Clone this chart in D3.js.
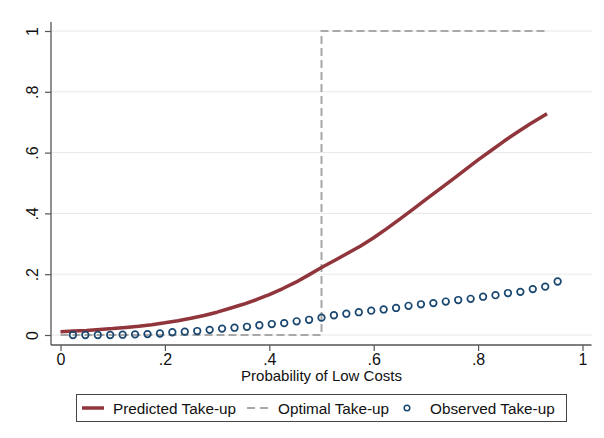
<!DOCTYPE html>
<html>
<head>
<meta charset="utf-8">
<script src="https://cdn.jsdelivr.net/npm/d3@7/dist/d3.min.js"></script>
<style>
  html, body { margin: 0; padding: 0; background: #fff; }
  svg { display: block; font-family: "Liberation Sans", Arial, sans-serif; }
</style>
</head>
<body>
<svg id="chart" width="604" height="438"></svg>
<script>
// Predicted take-up curve
const predX = [0, .025, .05, .075, .1, .125, .15, .175, .2, .225, .25, .275, .3, .325, .35, .375, .4, .425, .45, .475, .5, .525, .55, .575, .6, .625, .65, .675, .7, .725, .75, .775, .8, .825, .85, .875, .9, .932];
const predY = [.011, .013, .015, .018, .021, .025, .029, .034, .040, .047, .055, .064, .075, .088, .101, .116, .133, .152, .173, .197, .222, .245, .269, .293, .320, .350, .381, .413, .446, .478, .510, .543, .576, .607, .638, .667, .695, .728];

// Optimal take-up step
const optX = [0, 0.5, 0.5, 0.934];
const optY = [0, 0, 1, 1];

// Observed take-up, x = k/42
const obsK = d3.range(1, 41);
const obsY = [0.000, 0.000, 0.000, 0.000, 0.001, 0.002, 0.003, 0.005, 0.009, 0.011,
              0.013, 0.017, 0.021, 0.024, 0.027, 0.032, 0.036, 0.039, 0.045, 0.050,
              0.057, 0.065, 0.070, 0.075, 0.080, 0.084, 0.089, 0.096, 0.101, 0.105,
              0.110, 0.115, 0.119, 0.126, 0.131, 0.138, 0.142, 0.151, 0.159, 0.176];

const xTicks = [0, .2, .4, .6, .8, 1];
const yTicks = [0, .2, .4, .6, .8, 1];
const seriesNames = ["Predicted Take-up", "Optimal Take-up", "Observed Take-up"];
const xTitle = "Probability of Low Costs";

const colRed = "#90353b", colGray = "#a8a8a8", colNavy = "#1a476f";

const svg = d3.select("#chart");
const x = d3.scaleLinear().domain([0, 1]).range([60.5, 582.5]);
const y = d3.scaleLinear().domain([0, 1]).range([335, 31]);
const plotL = 51, plotR = 591.5, plotT = 22, plotB = 345;

const fmt = d => d === 0 ? "0" : d === 1 ? "1" : String(d).replace(/^0\./, ".");

// grid
svg.append("g").selectAll("line").data(yTicks).join("line")
  .attr("x1", plotL).attr("x2", plotR)
  .attr("y1", d => y(d)).attr("y2", d => y(d))
  .attr("stroke", "#e8e8e8").attr("stroke-width", 1);

// y axis
const gy = svg.append("g").attr("transform", `translate(${plotL},0)`)
  .call(d3.axisLeft(y).tickValues(yTicks).tickFormat(fmt).tickSize(6).tickPadding(0));
gy.select(".domain").remove();
gy.selectAll(".tick line").attr("stroke", "#555").attr("stroke-width", 1.2);
gy.selectAll(".tick text")
  .attr("font-size", 16).attr("fill", "#111")
  .attr("text-anchor", "middle")
  .attr("x", 0).attr("dy", 0)
  .attr("transform", "translate(-13,0) rotate(-90)");
svg.append("line").attr("x1", plotL).attr("x2", plotL).attr("y1", plotT).attr("y2", plotB)
  .attr("stroke", "#555").attr("stroke-width", 1.3);

// x axis
const gx = svg.append("g").attr("transform", `translate(0,${plotB})`)
  .call(d3.axisBottom(x).tickValues(xTicks).tickFormat(fmt).tickSize(6).tickPadding(3));
gx.select(".domain").remove();
gx.selectAll(".tick line").attr("stroke", "#555").attr("stroke-width", 1.2);
gx.selectAll(".tick text").attr("font-size", 16).attr("fill", "#111");
svg.append("line").attr("x1", plotL).attr("x2", plotR).attr("y1", plotB).attr("y2", plotB)
  .attr("stroke", "#555").attr("stroke-width", 1.3);

svg.append("text").attr("x", x(0.5)).attr("y", 381).attr("text-anchor", "middle")
  .attr("font-size", 15).attr("fill", "#111").text(xTitle);

// optimal step line
const optPts = optX.map((v, i) => [v, optY[i]]);
svg.append("path").datum(optPts)
  .attr("d", d3.line().x(d => x(d[0])).y(d => y(d[1])))
  .attr("fill", "none").attr("stroke", colGray).attr("stroke-width", 2)
  .attr("stroke-dasharray", "8,4");

// predicted curve
const predPts = predX.map((v, i) => [v, predY[i]]);
svg.append("path").datum(predPts)
  .attr("d", d3.line().x(d => x(d[0])).y(d => y(d[1])))
  .attr("fill", "none").attr("stroke", colRed).attr("stroke-width", 3.5)
  .attr("stroke-linejoin", "round");

// observed circles
svg.append("g").selectAll("circle").data(obsK).join("circle")
  .attr("cx", (k) => x(k / 42)).attr("cy", (k, i) => y(obsY[i]))
  .attr("r", 3.3).attr("fill", "none").attr("stroke", colNavy).attr("stroke-width", 1.7);

// legend
const lg = svg.append("g");
lg.append("rect").attr("x", 76.5).attr("y", 394.5).attr("width", 490).attr("height", 27)
  .attr("fill", "#fff").attr("stroke", "#444").attr("stroke-width", 1);
const ly = 408;
lg.append("line").attr("x1", 82).attr("x2", 104).attr("y1", ly).attr("y2", ly)
  .attr("stroke", colRed).attr("stroke-width", 3.5);
lg.append("text").attr("x", 113).attr("y", ly + 6).attr("font-size", 15.3).attr("fill", "#111").text(seriesNames[0]);
lg.append("line").attr("x1", 247).attr("x2", 269).attr("y1", ly).attr("y2", ly)
  .attr("stroke", colGray).attr("stroke-width", 2).attr("stroke-dasharray", "8,5");
lg.append("text").attr("x", 278).attr("y", ly + 6).attr("font-size", 15.3).attr("fill", "#111").text(seriesNames[1]);
lg.append("circle").attr("cx", 407).attr("cy", ly).attr("r", 2.8)
  .attr("fill", "none").attr("stroke", colNavy).attr("stroke-width", 1.5);
lg.append("text").attr("x", 430).attr("y", ly + 6).attr("font-size", 15.3).attr("fill", "#111").text(seriesNames[2]);
</script>
</body>
</html>
